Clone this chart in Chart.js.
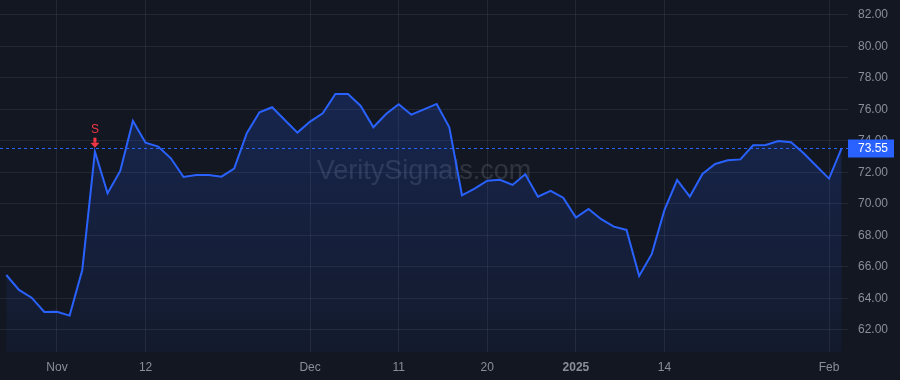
<!DOCTYPE html>
<html lang="en">

<head>
  <meta charset="UTF-8">
  <title>Chart</title>
  <style>
    html,
    body {
      margin: 0;
      padding: 0;
      background: #131722;
    }

    #wrap {
      width: 900px;
      height: 380px;
      position: relative;
    }
  </style>
</head>

<body>
  <div id="wrap"><canvas id="myChart"></canvas></div>
  <script src="https://cdn.jsdelivr.net/npm/chart.js@4.4.0/dist/chart.umd.min.js"></script>
  <script>
    // trading days, Oct 28 2024 -> Feb 4 2025
    const dates = [
      '2024-10-28', '2024-10-29', '2024-10-30', '2024-10-31',
      '2024-11-01', '2024-11-04', '2024-11-05', '2024-11-06', '2024-11-07', '2024-11-08',
      '2024-11-11', '2024-11-12', '2024-11-13', '2024-11-14', '2024-11-15',
      '2024-11-18', '2024-11-19', '2024-11-20', '2024-11-21', '2024-11-22',
      '2024-11-25', '2024-11-26', '2024-11-27', '2024-11-29',
      '2024-12-02', '2024-12-03', '2024-12-04', '2024-12-05', '2024-12-06',
      '2024-12-09', '2024-12-10', '2024-12-11', '2024-12-12', '2024-12-13',
      '2024-12-16', '2024-12-17', '2024-12-18', '2024-12-19', '2024-12-20',
      '2024-12-23', '2024-12-24', '2024-12-26', '2024-12-27',
      '2024-12-30', '2024-12-31', '2025-01-02', '2025-01-03',
      '2025-01-06', '2025-01-07', '2025-01-08', '2025-01-10',
      '2025-01-13', '2025-01-14', '2025-01-15', '2025-01-16', '2025-01-17',
      '2025-01-21', '2025-01-22', '2025-01-23', '2025-01-24',
      '2025-01-27', '2025-01-28', '2025-01-29', '2025-01-30', '2025-01-31',
      '2025-02-03', '2025-02-04'
    ]

    const closes = [
      65.49, 64.54, 64.05, 63.14,
      63.15, 62.91, 65.81, 73.32, 70.68, 72.10,
      75.27, 73.89, 73.64, 72.90, 71.71,
      71.84, 71.84, 71.73, 72.24, 74.49,
      75.82, 76.14, 75.33, 74.53,
      75.23, 75.76, 76.98, 76.98, 76.22,
      74.87, 75.71, 76.33, 75.67, 76.01,
      76.35, 74.87, 70.55, 70.97, 71.48,
      71.54, 71.21, 71.88, 70.46,
      70.83, 70.40, 69.13, 69.68,
      69.03, 68.56, 68.35, 65.43,
      66.83, 69.62, 71.52, 70.46, 71.90,
      72.54, 72.77, 72.83, 73.73,
      73.75, 74.00, 73.92, 73.22, 72.41,
      71.61, 73.55
    ]

    const tickDates = ['2024-11-01', '2024-11-12', '2024-12-02', '2024-12-11', '2024-12-20', '2025-01-02', '2025-01-14', '2025-02-03']
    const tickTexts = ['Nov', '12', 'Dec', '11', '20', '2025', '14', 'Feb']

    const signalDate = '2024-11-06'
    const signalText = 'S'
    const watermark = 'VeritySignals.com'

    const FONT = '"Liberation Sans", Arial, sans-serif'
    const BLUE = '#2962ff'
    const RED = '#f23645'

    const overlay = {
      id: 'overlay',
      beforeDatasetsDraw(chart) {
        const { ctx, chartArea } = chart
        ctx.save()
        ctx.font = '27px ' + FONT
        ctx.fillStyle = 'rgba(255, 255, 255, 0.12)'
        ctx.textAlign = 'center'
        ctx.textBaseline = 'middle'
        ctx.fillText(watermark, (chartArea.left + chartArea.right) / 2, 172)
        ctx.restore()
      },
      afterDatasetsDraw(chart) {
        const { ctx, chartArea, scales } = chart
        const last = closes[closes.length - 1]
        const y = Math.round(scales.y.getPixelForValue(last)) + 0.5

        ctx.save()
        // last price line
        ctx.strokeStyle = BLUE
        ctx.lineWidth = 1
        ctx.setLineDash([3, 3])
        ctx.beginPath()
        ctx.moveTo(chartArea.left, y)
        ctx.lineTo(chartArea.right, y)
        ctx.stroke()
        ctx.setLineDash([])

        // price box
        ctx.fillStyle = BLUE
        ctx.fillRect(chartArea.right, y - 9, 46, 18)
        ctx.fillStyle = '#ffffff'
        ctx.font = '12px ' + FONT
        ctx.textAlign = 'left'
        ctx.textBaseline = 'middle'
        ctx.fillText(last.toFixed(2), chartArea.right + 10, y + 0.5)

        // sell marker
        const i = dates.indexOf(signalDate)
        const px = scales.x.getPixelForValue(i)
        const py = scales.y.getPixelForValue(closes[i])
        ctx.fillStyle = RED
        ctx.textAlign = 'center'
        ctx.fillText(signalText, px, py - 22)
        ctx.fillRect(px - 1.5, py - 14, 3, 5)
        ctx.beginPath()
        ctx.moveTo(px - 4.5, py - 9)
        ctx.lineTo(px + 4.5, py - 9)
        ctx.lineTo(px, py - 4)
        ctx.closePath()
        ctx.fill()
        ctx.restore()
      }
    }

    function drawChart() {
      const context = document.querySelector('#myChart').getContext('2d')
      const gradient = context.createLinearGradient(0, 0, 0, 352)
      gradient.addColorStop(0, 'rgba(41, 98, 255, 0.26)')
      gradient.addColorStop(1, 'rgba(41, 98, 255, 0.05)')

      new Chart(context, {
        type: 'line',
        data: {
          labels: dates,
          datasets: [{
            data: closes,
            borderColor: BLUE,
            borderWidth: 2,
            backgroundColor: gradient,
            fill: 'start',
            pointRadius: 0,
            tension: 0
          }]
        },
        options: {
          responsive: true,
          maintainAspectRatio: false,
          animation: false,
          layout: { padding: 0 },
          plugins: {
            legend: { display: false },
            tooltip: { enabled: false }
          },
          scales: {
            x: {
              type: 'category',
              offset: true,
              afterBuildTicks: scale => {
                scale.ticks = scale.ticks.filter(t => tickDates.includes(dates[t.value]))
              },
              afterFit: scale => {
                scale.height = 28
                scale.paddingLeft = 0
                scale.paddingRight = 0
              },
              grid: {
                color: 'rgba(255, 255, 255, 0.07)',
                drawTicks: false,
                offset: false
              },
              border: { display: false },
              ticks: {
                autoSkip: false,
                maxRotation: 0,
                padding: 8,
                color: '#8a8e99',
                font: ctx => ({
                  family: FONT,
                  size: 12,
                  weight: ctx.tick && ctx.tick.label === '2025' ? 'bold' : 'normal'
                }),
                callback: value => tickTexts[tickDates.indexOf(dates[value])]
              }
            },
            y: {
              position: 'right',
              min: 60.6,
              max: 82.95,
              afterFit: scale => {
                scale.width = 52
                scale.paddingTop = 0
                scale.paddingBottom = 0
              },
              grid: {
                color: 'rgba(255, 255, 255, 0.07)',
                drawTicks: false
              },
              border: { display: false },
              ticks: {
                stepSize: 2,
                includeBounds: false,
                padding: 10,
                color: '#8a8e99',
                font: { family: FONT, size: 12 },
                callback: v => v.toFixed(2)
              }
            }
          }
        },
        plugins: [overlay]
      })
    }

    window.onload = () => {
      drawChart()
    }
  </script>
</body>

</html>
